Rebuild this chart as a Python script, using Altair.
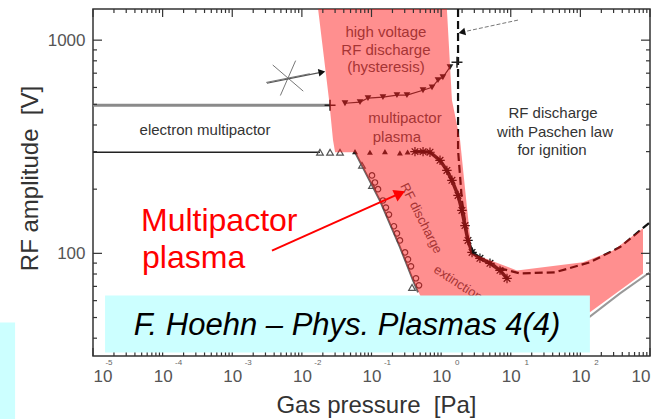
import altair as alt
import pandas as pd

# ---------------- data (pressure in Pa, RF amplitude in V) ----------------
X_DOMAIN = [1e-5, 1e3]
Y_DOMAIN = [33, 1400]

# shaded "multipactor plasma" band outline
band_p = [0.0171, 0.0246, 0.028, 0.030, 0.058, 0.132, 0.256, 0.395, 0.586, 137, 793, 793, 294, 109, 12.3, 2.77, 2.35, 1.87, 1.43, 1.21]
band_v = [1400, 523, 340, 298, 298, 177, 107, 74.6, 57, 53, 80.5, 131, 103, 90.8, 83.2, 100, 164, 340, 523, 1400]

# Paschen ignition curve (dashed)
pas_p = [1.75, 1.75, 1.99, 2.43, 3.07, 7.01, 13.6, 43.3, 137, 371, 1000]
pas_v = [1400, 305, 177, 115, 97.9, 85.1, 80.5, 81.5, 90.8, 107, 140]

# measured ignition points (asterisks)
ign_p = [0.421, 0.55, 0.692, 0.964, 1.21, 1.43, 1.75, 1.99, 2.20, 2.43, 2.78, 3.61, 5.03, 7.01, 8.84]
ign_v = [300, 300, 298, 273, 245, 220, 187, 159, 135, 115, 101, 94.8, 89.8, 83.2, 76.3]

# hysteresis points (filled down triangles)
hys_p = [0.0416, 0.0684, 0.089, 0.146, 0.232, 0.323, 0.549, 0.740, 0.902, 1.06, 1.34]
hys_v = [506, 512, 535, 540, 552, 552, 582, 601, 649, 670, 747]

# multipactor onset (triangles at ~300 V)
tri_open_p = [0.0182, 0.0254, 0.0353, 0.073, 0.1016, 0.382]
tri_open_v = [298, 298, 298, 259, 208, 69.2]
tri_fill_p = [0.058, 0.095, 0.156, 0.256, 0.33]
tri_fill_v = [300, 298, 300, 296, 299]

# extinction points (open circles)
cir_p = [0.1016, 0.112, 0.124, 0.146, 0.161, 0.178, 0.210, 0.232, 0.256, 0.303, 0.334, 0.369, 0.435, 0.481]
cir_v = [232, 215, 200, 177, 164, 152, 134, 124, 115, 101, 93.7, 86.9, 76.4, 70.8]

# diagonal boundary (gray line)
diag_p = [0.058, 0.132, 0.256, 0.395, 0.466]
diag_v = [298, 177, 107, 74.6, 65.6]

# electron multipactor limits
em_hi_p = [1e-5, 0.0254]
em_hi_v = [495, 495]
em_lo_p = [1e-5, 0.0182]
em_lo_v = [298, 298]

# lower gray curve at right
low_p = [51, 137, 371, 1000]
low_v = [43.5, 50.5, 64.9, 81.5]

# text labels
lab_t = ["high voltage", "RF discharge", "(hysteresis)", "multipactor", "plasma"]
lab_p = [0.161, 0.161, 0.161, 0.303, 0.232]
lab_v = [1090, 898, 747, 430, 351]

out_t = ["electron multipactor", "RF discharge", "with Paschen law", "for ignition"]
out_p = [4.06e-4, 40.5, 43.3, 39.2]
out_v = [378, 454, 370, 305]

dec_p = [1e-5, 1e-4, 1e-3, 1e-2, 1e-1, 1, 10, 100, 1000]
dec_e = ["-5", "-4", "-3", "-2", "-1", "0", "1", "2", "3"]

minor_x = [m * 10.0 ** e for e in range(-5, 3) for m in range(2, 10)]
minor_y = [m * 10.0 ** e for e in range(1, 3) for m in range(2, 10) if m * 10.0 ** e >= 33]
major_y = [100, 1000]

W, H = 557, 347
xs = alt.Scale(type="log", domain=X_DOMAIN)
ys = alt.Scale(type="log", domain=Y_DOMAIN)

x_axis = alt.Axis(values=dec_p, labelExpr="'10'", ticks=False, tickSize=0, domain=False, grid=False,
                  labelFontSize=17, labelColor="#555", labelPadding=12,
                  title="Gas pressure\u00a0 [Pa]", titleFontSize=24, titleColor="#333",
                  titleFontWeight="normal", titleX=283, titleY=49, titleBaseline="middle")
y_axis = alt.Axis(values=major_y, labelExpr="datum.value == 1000 ? '1000' : '100'", ticks=False, tickSize=0,
                  domain=False, grid=False, labelFontSize=17, labelColor="#555", labelPadding=8,
                  title="RF amplitude\u00a0 [V]", titleFontSize=24, titleColor="#333",
                  titleFontWeight="normal", titleX=-63, titleY=169, titleBaseline="middle", titleAngle=-90)


def X():
    return alt.X("p:Q", scale=xs, axis=x_axis)


def Y():
    return alt.Y("v:Q", scale=ys, axis=y_axis)


def df(p, v, **extra):
    d = {"p": p, "v": v}
    d.update(extra)
    d["i"] = list(range(len(p)))
    return pd.DataFrame(d)


def line(p, v, **mk):
    return alt.Chart(df(p, v)).mark_line(**mk).encode(x=X(), y=Y(), order="i:Q")


def pts(p, v, **mk):
    return alt.Chart(df(p, v)).mark_point(**mk).encode(x=X(), y=Y())


layers = []

# left decorative cyan strip of the slide
layers.append(alt.Chart(pd.DataFrame({"p": [4.6e-7], "p2": [7.6e-7], "v": [47.4], "v2": [16.6]}))
              .mark_rect(color="#ccffff").encode(x=X(), x2="p2:Q", y=Y(), y2="v2:Q"))

layers.append(line(em_hi_p, em_hi_v, color="#8a8a8a", strokeWidth=3))
layers.append(line(em_lo_p, em_lo_v, color="#222", strokeWidth=1.5))
layers.append(line(pas_p, pas_v, color="#111", strokeWidth=2.2, strokeDash=[8, 4]))
layers.append(line(diag_p, diag_v, color="#666", strokeWidth=2))
layers.append(line(ign_p, ign_v, color="#222", strokeWidth=3.5))

ast = "M-1,0L1,0M0,-1L0,1M-0.7,-0.7L0.7,0.7M-0.7,0.7L0.7,-0.7"
layers.append(pts(ign_p, ign_v, shape=ast, size=90, filled=False, stroke="#111", strokeWidth=1.2, opacity=1))
layers.append(line(hys_p, hys_v, color="#333", strokeWidth=1.2))
layers.append(pts(hys_p, hys_v, shape="triangle-down", size=45, filled=True, color="#222", opacity=1))
layers.append(pts(tri_open_p, tri_open_v, shape="triangle-up", size=45, filled=False, stroke="#555", strokeWidth=1.2, opacity=1))
layers.append(pts(tri_fill_p, tri_fill_v, shape="triangle-up", size=35, filled=True, color="#222", opacity=1))
layers.append(pts(cir_p, cir_v, shape="circle", size=30, filled=False, stroke="#444", strokeWidth=1.2, opacity=1))

# plus markers
plus = "M-1,0L1,0M0,-1L0,1"
layers.append(pts([0.0254, 1.69], [495, 788], shape=plus, size=120, filled=False, stroke="#222", strokeWidth=1.5, opacity=1))

# asterisk symbol with arrow pointing to the band
star = "M-1,0.2L1,-0.2M-0.7,-0.6L0.7,0.6M0.35,-0.8L-0.35,0.8"
layers.append(pts([0.00632], [664], shape=star, size=1900, filled=False, stroke="#777", strokeWidth=1, opacity=1))
layers.append(line([0.00315, 0.0194], [628, 708], color="#555", strokeWidth=1.2))
layers.append(pts([0.0194], [708], shape="triangle-up", size=60, filled=True, color="#111", angle=79, opacity=1))

# arrow from upper right to Paschen line
layers.append(line([12.7, 1.99], [1242, 1090], color="#777", strokeWidth=1, strokeDash=[4, 2]))
layers.append(pts([1.99], [1090], shape="triangle-up", size=60, filled=True, color="#111", angle=257, opacity=1))

# gray labels (under the red band)
layers.append(alt.Chart(df(lab_p, lab_v, t=lab_t)).mark_text(fontSize=15, color="#555", baseline="middle")
              .encode(x=X(), y=Y(), text="t:N"))
layers.append(alt.Chart(df([0.514], [146], t=["RF discharge"])).mark_text(fontSize=13, color="#555", angle=63, baseline="middle")
              .encode(x=X(), y=Y(), text="t:N"))
layers.append(alt.Chart(df([1.75], [72.3], t=["extinction"])).mark_text(fontSize=13, color="#555", angle=33, baseline="middle")
              .encode(x=X(), y=Y(), text="t:N"))

# red band
layers.append(alt.Chart(df(band_p, band_v)).mark_line(fill="#ff1010", fillOpacity=0.47, strokeOpacity=0, strokeWidth=0)
              .encode(x=X(), y=Y(), order="i:Q"))

layers.append(alt.Chart(df(out_p, out_v, t=out_t)).mark_text(fontSize=15, color="#333", baseline="middle")
              .encode(x=X(), y=Y(), text="t:N"))

layers.append(line(low_p, low_v, color="#999", strokeWidth=2))

# ticks (inward, all four sides)
def xticks(vals, ln):
    d = pd.DataFrame({"p": vals})
    b = alt.Chart(d).mark_rule(color="#333", strokeWidth=1.2).encode(x=X(), y=alt.value(H), y2=alt.value(H - ln))
    t = alt.Chart(d).mark_rule(color="#333", strokeWidth=1.2).encode(x=X(), y=alt.value(0), y2=alt.value(ln))
    return [b, t]


def yticks(vals, ln):
    d = pd.DataFrame({"v": vals})
    l = alt.Chart(d).mark_rule(color="#333", strokeWidth=1.2).encode(y=Y(), x=alt.value(0), x2=alt.value(ln))
    r = alt.Chart(d).mark_rule(color="#333", strokeWidth=1.2).encode(y=Y(), x=alt.value(W), x2=alt.value(W - ln))
    return [l, r]


layers += xticks(dec_p, 8) + xticks(minor_x, 4) + yticks(major_y, 9) + yticks(minor_y, 4)

# exponents of the x tick labels
layers.append(alt.Chart(df(dec_p, [33] * len(dec_p), t=dec_e)).mark_text(fontSize=8, color="#666", dx=16, baseline="middle")
              .encode(x=X(), y=alt.value(H + 7), text="t:N"))

# red annotation
layers.append(line([0.00372, 0.256], [103, 191], color="#ff0000", strokeWidth=2))
layers.append(pts([0.256], [191], shape="triangle-up", size=160, filled=True, color="#ff0000", angle=66, opacity=1))
layers.append(alt.Chart(df([4.89e-5, 5.06e-5], [127, 85.1], t=["Multipactor", "plasma"]))
              .mark_text(fontSize=32, color="#ff0000", align="left", baseline="alphabetic")
              .encode(x=X(), y=Y(), text="t:N"))

# citation box
layers.append(alt.Chart(pd.DataFrame({"p": [1.49e-5], "p2": [137], "v": [63.5], "v2": [34.3]}))
              .mark_rect(color="#ccffff").encode(x=X(), x2="p2:Q", y=Y(), y2="v2:Q"))
layers.append(alt.Chart(df([0.0445], [41.2], t=["F. Hoehn \u2013 Phys. Plasmas 4(4)"]))
              .mark_text(fontSize=31, fontStyle="italic", color="#000", baseline="alphabetic")
              .encode(x=X(), y=Y(), text="t:N"))

chart = alt.layer(*layers).properties(
    width=W, height=H,
    autosize=alt.AutoSizeParams(type="none"),
    padding={"left": 93, "top": 9, "right": 5, "bottom": 63},
).configure(font="Liberation Sans").configure_view(stroke="#333", strokeWidth=1.5)

chart.save("out.html", embed_options={"renderer": "svg", "actions": False})
